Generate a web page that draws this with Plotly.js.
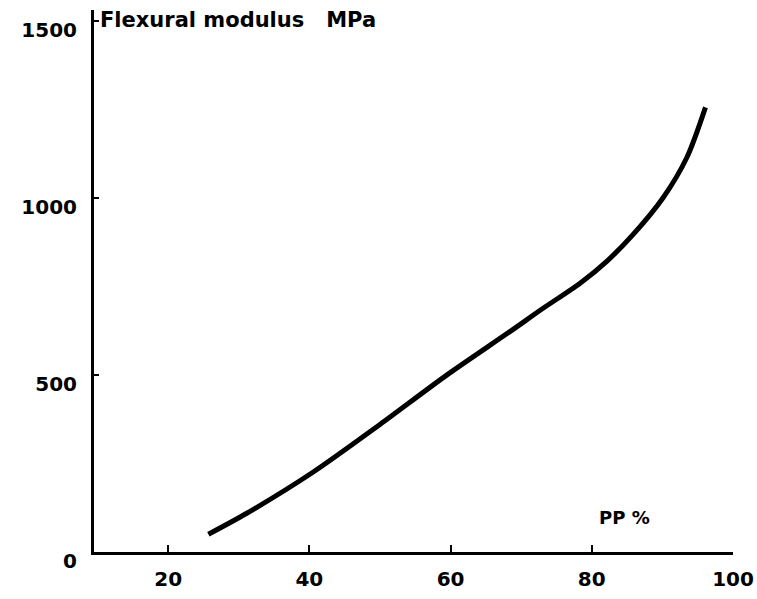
<!DOCTYPE html>
<html>
<head>
<meta charset="utf-8">
<script src="https://cdn.plot.ly/plotly-3.0.1.min.js"></script>
<style>html,body{margin:0;padding:0;background:#fff;}#chart{width:757px;height:599px;}</style>
</head>
<body>
<div id="chart"></div>
<script>
const ppPercent = [25.7, 31.2, 40.5, 50.0, 59.5, 68.4, 73.1, 78.3, 82.2, 85.8, 90.1, 93.5, 96.1];
const flexModulus = [50, 110, 225, 360, 500, 622, 688, 758, 822, 895, 1000, 1115, 1255];
const xTicks = [20, 40, 60, 80, 100];
const yTicks = [0, 500, 1000, 1500];

const tickFont = {family: 'DejaVu Sans', size: 20, color: '#000', weight: 'bold'};

Plotly.newPlot('chart', [{
  x: ppPercent,
  y: flexModulus,
  type: 'scatter',
  mode: 'lines',
  line: {color: '#000', width: 5, shape: 'spline', smoothing: 0.8},
  hoverinfo: 'skip'
}], {
  width: 757,
  height: 599,
  paper_bgcolor: '#fff',
  plot_bgcolor: '#fff',
  showlegend: false,
  margin: {l: 94, r: 24, t: 10, b: 47},
  title: {
    text: 'Flexural modulus\u00a0\u00a0 MPa',
    font: {family: 'DejaVu Sans', size: 21, color: '#000', weight: 'bold'},
    x: 100 / 757, xanchor: 'left', xref: 'container',
    y: 1 - 20 / 599, yanchor: 'middle', yref: 'container'
  },
  xaxis: {
    range: [9.5, 100],
    tickvals: xTicks,
    ticktext: xTicks.map(String),
    ticks: 'inside', ticklen: 7, tickwidth: 2, tickcolor: '#000',
    showline: true, linecolor: '#000', linewidth: 3,
    showgrid: false, zeroline: false,
    tickfont: tickFont,
    ticklabelstandoff: 7
  },
  yaxis: {
    range: [0, 1530],
    tickvals: yTicks,
    ticktext: yTicks.map(String),
    ticks: 'inside', ticklen: 5, tickwidth: 2, tickcolor: '#000',
    showline: true, linecolor: '#000', linewidth: 3,
    showgrid: false, zeroline: false,
    tickfont: tickFont,
    ticklabelstandoff: 10,
    ticklabelshift: 9
  },
  annotations: [{
    text: 'PP %',
    x: 84.7, y: 96, xref: 'x', yref: 'y',
    showarrow: false,
    font: {family: 'DejaVu Sans', size: 18, color: '#000', weight: 'bold'}
  }]
}, {displayModeBar: false, staticPlot: true});
</script>
</body>
</html>
